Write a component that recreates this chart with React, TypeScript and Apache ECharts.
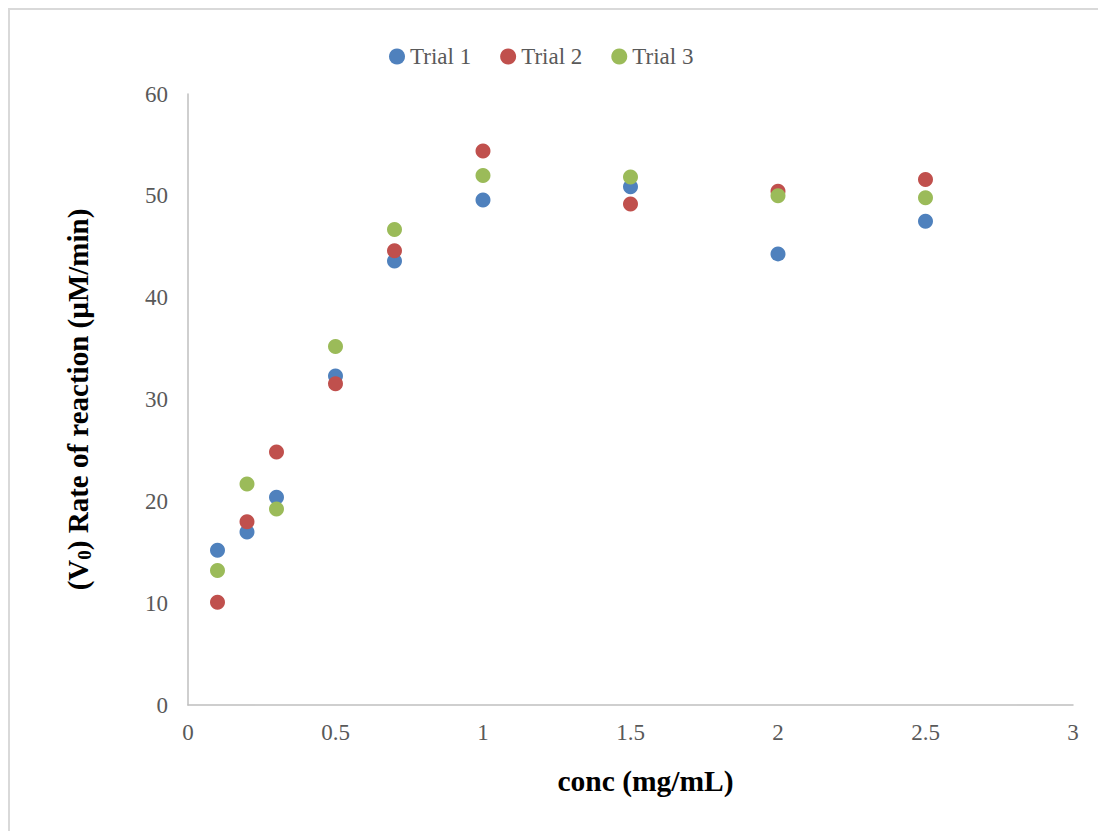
import React, { useEffect, useRef } from "react";
import * as echarts from "echarts";

const concentrations = [0.1, 0.2, 0.3, 0.5, 0.7, 1.0, 1.5, 2.0, 2.5];
const trial1 = [15.2, 17.0, 20.4, 32.3, 43.6, 49.6, 50.9, 44.3, 47.5];
const trial2 = [10.1, 18.0, 24.85, 31.55, 44.6, 54.4, 49.2, 50.45, 51.6];
const trial3 = [13.2, 21.7, 19.25, 35.2, 46.7, 52.0, 51.85, 50.0, 49.8];
const seriesNames = ["Trial 1", "Trial 2", "Trial 3"];
const seriesColors = ["#4F81BD", "#C0504D", "#9BBB59"];

const FONT = "Liberation Serif";

export default function App() {
  const ref = useRef<HTMLDivElement>(null);
  useEffect(() => {
    if (!ref.current) return;
    const chart = echarts.init(ref.current, null, { renderer: "svg" });
    const all = [trial1, trial2, trial3];
    chart.setOption({
      animation: false,
      backgroundColor: "#ffffff",
      textStyle: { fontFamily: FONT },
      graphic: [
        {
          type: "rect",
          silent: true,
          shape: { x: 1, y: 1, width: 1300, height: 1100 },
          style: { fill: "none", stroke: "#d9d9d9", lineWidth: 2 },
        },
      ],
      legend: {
        top: 32,
        left: 376,
        itemWidth: 16,
        itemHeight: 16,
        itemGap: 29,
        icon: "circle",
        data: seriesNames,
        textStyle: { fontFamily: FONT, fontSize: 23, color: "#595959" },
      },
      grid: { left: 180, right: 33, top: 86, bottom: 126 },
      xAxis: {
        type: "value",
        min: 0,
        max: 3,
        interval: 0.5,
        name: "conc (mg/mL)",
        nameLocation: "middle",
        nameGap: 61,
        nameTextStyle: {
          fontFamily: FONT,
          fontSize: 29.5,
          fontWeight: "bold",
          color: "#000",
          padding: [0, 0, 0, 30],
        },
        axisLine: { show: true, lineStyle: { color: "#bfbfbf", width: 1.5 } },
        axisTick: { show: false },
        splitLine: { show: false },
        axisLabel: { fontFamily: FONT, fontSize: 23, color: "#595959", margin: 16 },
      },
      yAxis: {
        type: "value",
        min: 0,
        max: 60,
        interval: 10,
        name: "(V{sub|0}) Rate of reaction (µM/min)",
        nameLocation: "middle",
        nameGap: 94,
        nameTextStyle: {
          fontFamily: FONT,
          fontSize: 29,
          fontWeight: "bold",
          color: "#000",
          rich: {
            sub: {
              fontFamily: FONT,
              fontSize: 19,
              fontWeight: "bold",
              color: "#000",
              padding: [13, 0, 0, 0],
            },
          },
        },
        axisLine: { show: true, lineStyle: { color: "#bfbfbf", width: 1.5 } },
        axisTick: { show: false },
        splitLine: { show: false },
        axisLabel: { fontFamily: FONT, fontSize: 23, color: "#595959", margin: 20 },
      },
      series: seriesNames.map((name, i) => ({
        name,
        type: "scatter",
        symbol: "circle",
        symbolSize: 15,
        itemStyle: { color: seriesColors[i], opacity: 1 },
        data: concentrations.map((c, j) => [c, all[i][j]]),
      })),
    });
    return () => chart.dispose();
  }, []);
  return <div ref={ref} style={{ width: 1098, height: 823 }} />;
}
